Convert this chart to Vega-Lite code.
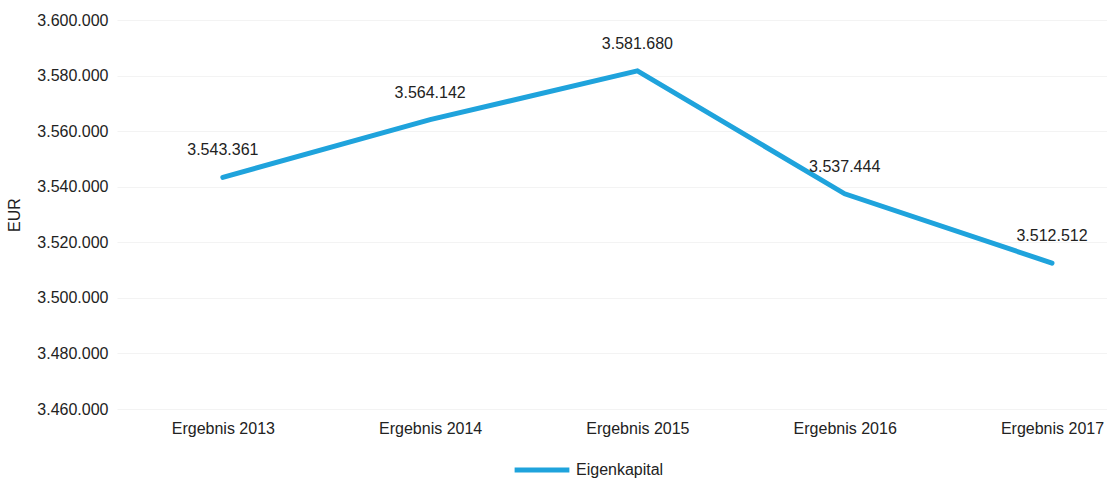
{
  "$schema": "https://vega.github.io/schema/vega-lite/v6.json",
  "width": 990,
  "height": 389,
  "autosize": {"type": "none"},
  "padding": {"left": 117, "top": 20, "right": 0, "bottom": 70},
  "background": "white",
  "config": {
    "locale": {"number": {"decimal": ",", "thousands": ".", "grouping": [3], "currency": ["", " €"]}},
    "font": "Liberation Sans",
    "view": {"stroke": null}
  },
  "data": {
    "values": [
      {"jahr": "Ergebnis 2013", "wert": 3543361, "serie": "Eigenkapital"},
      {"jahr": "Ergebnis 2014", "wert": 3564142, "serie": "Eigenkapital"},
      {"jahr": "Ergebnis 2015", "wert": 3581680, "serie": "Eigenkapital"},
      {"jahr": "Ergebnis 2016", "wert": 3537444, "serie": "Eigenkapital"},
      {"jahr": "Ergebnis 2017", "wert": 3512512, "serie": "Eigenkapital"}
    ]
  },
  "encoding": {
    "x": {
      "field": "jahr", "type": "ordinal", "sort": null,
      "scale": {"type": "point", "padding": 0.388, "align": 0.658},
      "axis": {"title": null, "labelAngle": 0, "domain": false, "ticks": false, "labelFontSize": 16, "labelColor": "#222", "labelPadding": 11, "grid": false}
    },
    "y": {
      "field": "wert", "type": "quantitative",
      "scale": {"domain": [3460000, 3600000], "zero": false, "nice": false},
      "axis": {"title": "EUR", "format": ",d", "values": [3460000, 3480000, 3500000, 3520000, 3540000, 3560000, 3580000, 3600000], "domain": false, "ticks": false, "labelFontSize": 16, "labelColor": "#222", "labelPadding": 9, "titleFontSize": 16, "titleFontWeight": "normal", "titleColor": "#222", "titlePadding": 14, "gridColor": "#f3f3f3", "gridWidth": 1}
    }
  },
  "layer": [
    {
      "mark": {"type": "line", "strokeWidth": 5, "strokeCap": "round", "strokeJoin": "miter"},
      "encoding": {
        "color": {
          "field": "serie", "type": "nominal",
          "scale": {"range": ["#1fa3dc"]},
          "legend": {"title": null, "orient": "none", "legendX": 395, "legendY": 420, "symbolType": "stroke", "symbolSize": 3000, "symbolStrokeWidth": 5, "labelFontSize": 16, "labelColor": "#222", "labelOffset": 4}
        }
      }
    },
    {
      "mark": {"type": "text", "fontSize": 16, "color": "#222", "baseline": "middle", "dy": -27},
      "encoding": {"text": {"field": "wert", "type": "quantitative", "format": ",d"}}
    }
  ]
}
